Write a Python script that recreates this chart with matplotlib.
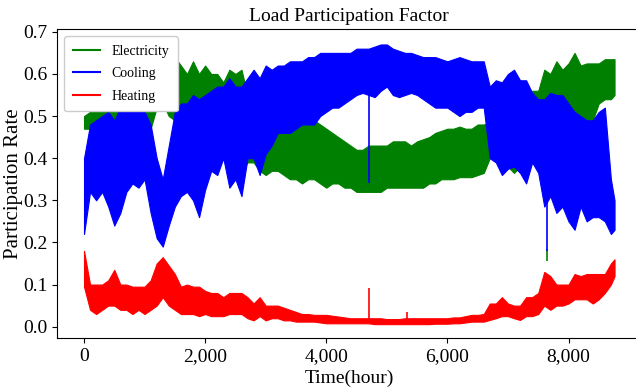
import numpy as np
import matplotlib.pyplot as plt
from matplotlib.lines import Line2D
from matplotlib.ticker import FuncFormatter

# Envelopes (min / max per 100 h)
hours = [0, 100, 200, 300, 400, 500, 600, 700, 800, 900,
         1000, 1100, 1200, 1300, 1400, 1500, 1600, 1700, 1800, 1900,
         2000, 2100, 2200, 2300, 2400, 2500, 2600, 2700, 2800, 2900,
         3000, 3100, 3200, 3300, 3400, 3500, 3600, 3700, 3800, 3900,
         4000, 4100, 4200, 4300, 4400, 4500, 4600, 4700, 4800, 4900,
         5000, 5100, 5200, 5300, 5400, 5500, 5600, 5700, 5800, 5900,
         6000, 6100, 6200, 6300, 6400, 6500, 6600, 6700, 6800, 6900,
         7000, 7100, 7200, 7300, 7400, 7500, 7600, 7700, 7800, 7900,
         8000, 8100, 8200, 8300, 8400, 8500, 8600, 8700, 8760]

cooling_lo = [0.22, 0.32, 0.30, 0.32, 0.285, 0.24, 0.27, 0.32, 0.34, 0.33,
              0.35, 0.27, 0.21, 0.19, 0.24, 0.285, 0.31, 0.32, 0.30, 0.26,
              0.325, 0.37, 0.36, 0.40, 0.33, 0.35, 0.31, 0.40, 0.40, 0.36,
              0.41, 0.43, 0.46, 0.46, 0.46, 0.47, 0.48, 0.48, 0.48, 0.50,
              0.51, 0.52, 0.52, 0.53, 0.54, 0.55, 0.555, 0.55, 0.545, 0.56,
              0.57, 0.55, 0.545, 0.55, 0.555, 0.55, 0.54, 0.53, 0.52, 0.52,
              0.52, 0.51, 0.50, 0.51, 0.51, 0.52, 0.52, 0.40, 0.39, 0.36,
              0.375, 0.38, 0.365, 0.34, 0.39, 0.365, 0.285, 0.31, 0.27, 0.285,
              0.25, 0.23, 0.285, 0.25, 0.26, 0.26, 0.25, 0.22, 0.23]
cooling_hi = [0.40, 0.48, 0.49, 0.50, 0.51, 0.49, 0.52, 0.52, 0.52, 0.54,
              0.51, 0.48, 0.40, 0.35, 0.43, 0.51, 0.53, 0.53, 0.55, 0.54,
              0.55, 0.56, 0.57, 0.57, 0.59, 0.57, 0.57, 0.59, 0.61, 0.59,
              0.62, 0.61, 0.62, 0.62, 0.63, 0.63, 0.63, 0.64, 0.64, 0.65,
              0.65, 0.65, 0.65, 0.65, 0.65, 0.66, 0.66, 0.66, 0.665, 0.67,
              0.67, 0.66, 0.655, 0.65, 0.65, 0.645, 0.64, 0.64, 0.64, 0.635,
              0.63, 0.635, 0.64, 0.635, 0.63, 0.63, 0.63, 0.57, 0.585, 0.58,
              0.60, 0.61, 0.585, 0.585, 0.555, 0.54, 0.54, 0.555, 0.55, 0.55,
              0.53, 0.51, 0.50, 0.49, 0.49, 0.51, 0.52, 0.35, 0.30]

electricity_lo = [0.47, 0.47, 0.47, 0.47, 0.48, 0.47, 0.48, 0.48, 0.48, 0.48,
                  0.48, 0.47, 0.52, 0.53, 0.50, 0.49, 0.50, 0.50, 0.50, 0.50,
                  0.50, 0.50, 0.45, 0.40, 0.38, 0.38, 0.37, 0.39, 0.39, 0.37,
                  0.36, 0.37, 0.37, 0.36, 0.35, 0.35, 0.34, 0.35, 0.35, 0.34,
                  0.33, 0.34, 0.34, 0.33, 0.33, 0.32, 0.32, 0.32, 0.32, 0.32,
                  0.33, 0.33, 0.33, 0.33, 0.33, 0.33, 0.33, 0.34, 0.34, 0.35,
                  0.35, 0.35, 0.355, 0.355, 0.355, 0.36, 0.365, 0.40, 0.41, 0.40,
                  0.38, 0.365, 0.38, 0.45, 0.45, 0.45, 0.45, 0.45, 0.45, 0.45,
                  0.45, 0.45, 0.47, 0.47, 0.49, 0.53, 0.54, 0.54, 0.55]
electricity_hi = [0.50, 0.51, 0.51, 0.51, 0.51, 0.51, 0.51, 0.51, 0.51, 0.51,
                  0.51, 0.51, 0.60, 0.62, 0.62, 0.64, 0.62, 0.60, 0.63, 0.60,
                  0.62, 0.60, 0.60, 0.58, 0.61, 0.60, 0.61, 0.55, 0.47, 0.47,
                  0.47, 0.47, 0.47, 0.48, 0.48, 0.48, 0.48, 0.49, 0.49, 0.48,
                  0.47, 0.46, 0.45, 0.44, 0.43, 0.42, 0.42, 0.43, 0.43, 0.43,
                  0.43, 0.44, 0.44, 0.44, 0.43, 0.44, 0.445, 0.45, 0.46, 0.465,
                  0.47, 0.47, 0.475, 0.47, 0.47, 0.48, 0.48, 0.485, 0.56, 0.57,
                  0.59, 0.50, 0.48, 0.54, 0.56, 0.56, 0.61, 0.60, 0.63, 0.61,
                  0.625, 0.65, 0.62, 0.625, 0.625, 0.625, 0.635, 0.635, 0.635]

heating_lo = [0.095, 0.04, 0.03, 0.04, 0.05, 0.05, 0.04, 0.04, 0.03, 0.04,
              0.03, 0.04, 0.05, 0.07, 0.05, 0.04, 0.03, 0.03, 0.03, 0.025,
              0.03, 0.025, 0.025, 0.025, 0.03, 0.03, 0.03, 0.02, 0.015, 0.025,
              0.015, 0.02, 0.02, 0.015, 0.015, 0.012, 0.012, 0.012, 0.012, 0.010,
              0.008, 0.008, 0.008, 0.008, 0.008, 0.008, 0.008, 0.008, 0.006, 0.006,
              0.006, 0.006, 0.006, 0.006, 0.006, 0.006, 0.006, 0.006, 0.007, 0.007,
              0.007, 0.008, 0.008, 0.010, 0.012, 0.012, 0.012, 0.016, 0.02, 0.025,
              0.025, 0.02, 0.016, 0.025, 0.025, 0.03, 0.05, 0.04, 0.05, 0.05,
              0.055, 0.065, 0.065, 0.065, 0.055, 0.065, 0.08, 0.10, 0.12]
heating_hi = [0.18, 0.10, 0.10, 0.10, 0.11, 0.135, 0.10, 0.10, 0.095, 0.095,
              0.095, 0.11, 0.15, 0.165, 0.145, 0.125, 0.095, 0.10, 0.095, 0.095,
              0.085, 0.08, 0.08, 0.07, 0.08, 0.08, 0.08, 0.07, 0.055, 0.07,
              0.05, 0.05, 0.05, 0.045, 0.04, 0.035, 0.03, 0.03, 0.028, 0.028,
              0.028, 0.026, 0.024, 0.022, 0.02, 0.02, 0.02, 0.02, 0.02, 0.02,
              0.018, 0.018, 0.018, 0.02, 0.02, 0.02, 0.02, 0.02, 0.02, 0.02,
              0.02, 0.022, 0.022, 0.025, 0.028, 0.028, 0.03, 0.055, 0.055, 0.07,
              0.055, 0.05, 0.05, 0.07, 0.07, 0.08, 0.13, 0.12, 0.10, 0.10,
              0.10, 0.125, 0.12, 0.125, 0.125, 0.125, 0.125, 0.15, 0.16]

# single-hour spikes (hour, bottom, top)
elec_spike = [(7639, 0.155, 0.185)]
cool_spike = [(4711, 0.34, 0.55), (7639, 0.18, 0.30)]
heat_spike = [(4711, 0.015, 0.092), (5327, 0.01, 0.035)]

names = ['Electricity', 'Cooling', 'Heating']
colors = ['green', 'blue', 'red']

plt.rcParams['font.family'] = ['Liberation Serif', 'DejaVu Serif']

fig = plt.figure(figsize=(6.36, 3.91), dpi=100)
ax = fig.add_axes([57.3 / 636, 52.7 / 391, 583.7 / 636, 309 / 391])

series = [(electricity_lo, electricity_hi, elec_spike),
          (cooling_lo, cooling_hi, cool_spike),
          (heating_lo, heating_hi, heat_spike)]
for (lo, hi, spikes), c in zip(series, colors):
    ax.fill_between(hours, lo, hi, color=c, lw=0.8, edgecolor=c)
    for h, b, t in spikes:
        ax.vlines(h, b, t, color=c, lw=1.2)

ax.set_xlim(-441, 9197)
ax.set_ylim(-0.0276, 0.706)
ax.set_xticks([0, 2000, 4000, 6000, 8000])
ax.xaxis.set_major_formatter(FuncFormatter(lambda v, p: f'{int(v):,}'))
ax.set_yticks(np.arange(0, 0.71, 0.1))
ax.yaxis.set_major_formatter(FuncFormatter(lambda v, p: f'{v:.1f}'))
ax.tick_params(labelsize=14)

ax.set_title('Load Participation Factor', fontsize=14)
ax.set_xlabel('Time(hour)', fontsize=14, labelpad=3)
ax.set_ylabel('Participation Rate', fontsize=15)
ax.yaxis.set_label_coords(-0.059, 0.5)

handles = [Line2D([], [], color=c, lw=1.5) for c in colors]
ax.legend(handles, names, loc='upper left', fontsize=10, framealpha=1,
          labelspacing=0.7, borderpad=0.6)

fig.savefig('out.png', dpi=100)
